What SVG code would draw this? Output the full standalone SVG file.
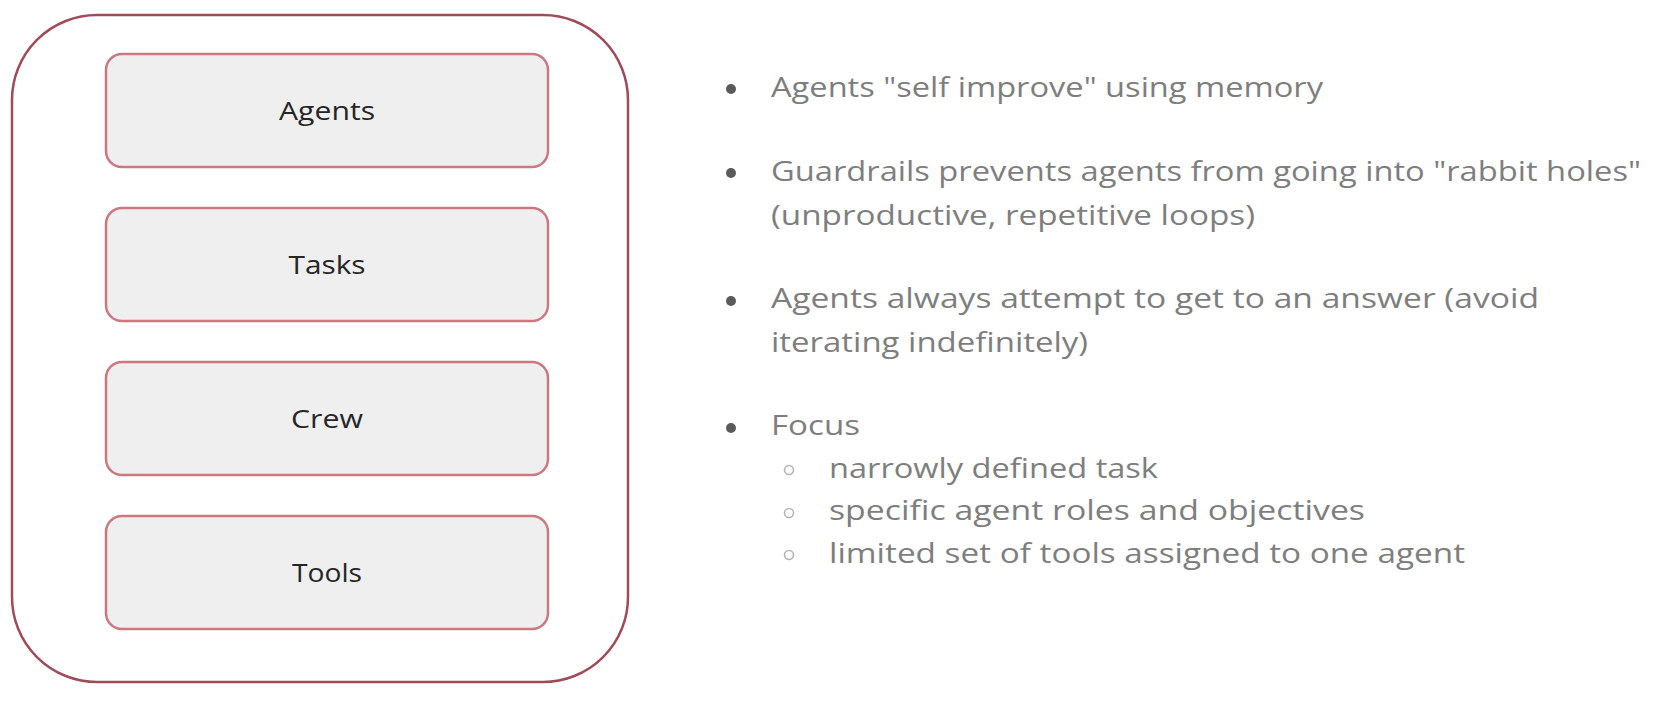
<svg xmlns="http://www.w3.org/2000/svg" width="1654" height="708" viewBox="0 0 1654 708">
  <style>
    .outer { fill: #ffffff; stroke: #a04c58; stroke-width: 2.5; }
    .box { fill: #efefef; stroke: #cc7880; stroke-width: 2.5; }
    .label { font-family: "Open Sans", "Liberation Sans", sans-serif; font-size: 25px; font-weight: 500; fill: #262626; text-anchor: middle; }
    .txt { font-family: "Open Sans", "Liberation Sans", sans-serif; font-size: 27px; fill: #7e7e7e; }
    .dot { fill: #5a5a5a; }
    .ring { fill: none; stroke: #b5b5b5; stroke-width: 1.6; }
  </style>
  <rect x="0" y="0" width="1654" height="708" fill="#ffffff"/>
  <g id="container">
    <rect class="outer" x="12" y="15" width="616" height="667" rx="85" ry="85"/>
  </g>
  <g id="node-agents">
    <rect class="box" x="106" y="54" width="442" height="113" rx="16" ry="16"/>
    <text class="label" x="327" y="120" textLength="96" lengthAdjust="spacingAndGlyphs">Agents</text>
  </g>
  <g id="node-tasks">
    <rect class="box" x="106" y="208" width="442" height="113" rx="16" ry="16"/>
    <text class="label" x="327" y="274" textLength="77" lengthAdjust="spacingAndGlyphs">Tasks</text>
  </g>
  <g id="node-crew">
    <rect class="box" x="106" y="362" width="442" height="113" rx="16" ry="16"/>
    <text class="label" x="327" y="428" textLength="72" lengthAdjust="spacingAndGlyphs">Crew</text>
  </g>
  <g id="node-tools">
    <rect class="box" x="106" y="516" width="442" height="113" rx="16" ry="16"/>
    <text class="label" x="327" y="582" textLength="70" lengthAdjust="spacingAndGlyphs">Tools</text>
  </g>
  <g id="connectors"></g>
  <g id="notes">
    <circle class="dot" cx="731" cy="89" r="5"/>
    <text class="txt" x="771" y="97" textLength="552" lengthAdjust="spacingAndGlyphs">Agents "self improve" using memory</text>
    <circle class="dot" cx="731" cy="173" r="5"/>
    <text class="txt" x="771" y="181" textLength="870" lengthAdjust="spacingAndGlyphs">Guardrails prevents agents from going into "rabbit holes"</text>
    <text class="txt" x="771" y="225" textLength="484" lengthAdjust="spacingAndGlyphs">(unproductive, repetitive loops)</text>
    <circle class="dot" cx="731" cy="301" r="5"/>
    <text class="txt" x="771" y="308" textLength="768" lengthAdjust="spacingAndGlyphs">Agents always attempt to get to an answer (avoid</text>
    <text class="txt" x="771" y="352" textLength="317" lengthAdjust="spacingAndGlyphs">iterating indefinitely)</text>
    <circle class="dot" cx="731" cy="428" r="5"/>
    <text class="txt" x="771" y="435" textLength="89" lengthAdjust="spacingAndGlyphs">Focus</text>
    <circle class="ring" cx="789" cy="470" r="4.5"/>
    <text class="txt" x="829" y="478" textLength="329" lengthAdjust="spacingAndGlyphs">narrowly defined task</text>
    <circle class="ring" cx="789" cy="513" r="4.5"/>
    <text class="txt" x="829" y="520" textLength="536" lengthAdjust="spacingAndGlyphs">specific agent roles and objectives</text>
    <circle class="ring" cx="789" cy="555" r="4.5"/>
    <text class="txt" x="829" y="563" textLength="636" lengthAdjust="spacingAndGlyphs">limited set of tools assigned to one agent</text>
  </g>
</svg>
